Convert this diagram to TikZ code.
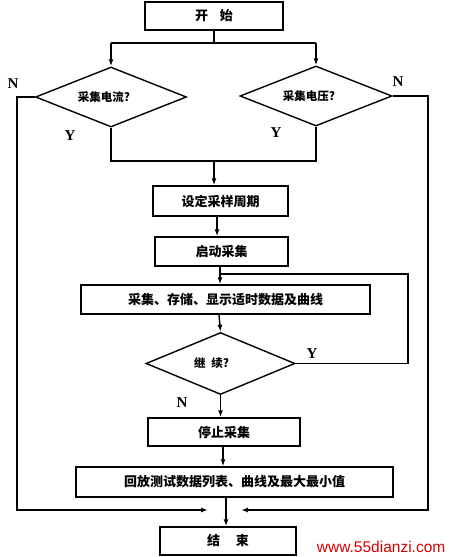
\documentclass[tikz,border=0pt]{standalone}
\usepackage{fontspec}
\setmainfont{Liberation Serif}
\newfontfamily\cjk{Noto Sans CJK SC}
\newfontfamily\wm{Liberation Sans}
\usetikzlibrary{shapes.geometric,arrows.meta}
\begin{document}
\begin{tikzpicture}[x=1pt,y=-1pt,
  line width=1.4pt,
  every node/.style={inner sep=0pt},
  proc/.style={draw,rectangle,font=\cjk\fontsize{13}{15}\selectfont\bfseries},
  dec/.style={draw,diamond,aspect=2.5,font=\cjk\fontsize{11.5}{13}\selectfont\bfseries},
  yn/.style={font=\fontsize{15}{17}\selectfont\bfseries},
  arr/.style={-{Latex[length=7pt,width=5pt]}}]
\useasboundingbox (0,0) rectangle (450,557);
% nodes
\node[proc,minimum width=138pt,minimum height=28pt] (start) at (214,16) {开\hspace{0.9em}始};
\node[dec,minimum width=151pt,minimum height=60pt] (d1) at (111,97) {\hspace{-14pt}采集电流?};
\node[dec,minimum width=152pt,minimum height=60pt] (d2) at (316,96) {\hspace{-14pt}采集电压?};
\node[proc,minimum width=135pt,minimum height=30pt] (b1) at (220.5,201) {设定采样周期};
\node[proc,minimum width=133pt,minimum height=29pt] (b2) at (221.5,251.5) {启动采集};
\node[proc,minimum width=289pt,minimum height=29pt] (b3) at (225.5,299.5) {采集、存储、显示适时数据及曲线};
\node[dec,minimum width=149pt,minimum height=62pt] (d3) at (220.5,363.5) {\hspace{-18pt}继\hspace{0.5em}续?};
\node[proc,minimum width=152pt,minimum height=28pt] (b4) at (224,432) {停止采集};
\node[proc,minimum width=317pt,minimum height=30pt] (b5) at (234.5,482) {回放测试数据列表、曲线及最大最小值};
\node[proc,minimum width=136pt,minimum height=28pt] (end) at (228,541) {结\hspace{1.2em}束};
% labels
\node[yn] (n1) at (13,84) {N};
\node[yn] (n2) at (398,82) {N};
\node[yn] (y1) at (70,136) {Y};
\node[yn] (y2) at (276,133) {Y};
\node[yn] (y3) at (312,354) {Y};
\node[yn] (n3) at (182,403) {N};
\node[font=\wm\fontsize{15.5}{17}\selectfont,text=red!85!black,anchor=east] (wm) at (446,547) {www.55dianzi.com};
% coordinates
\coordinate (jT) at (214,43);
\coordinate (jL) at (111,43);
\coordinate (jR) at (316,43);
\coordinate (kL) at (111,161);
\coordinate (kM) at (214,161);
\coordinate (kR) at (316,161);
\coordinate (lp1) at (408,363.5);
\coordinate (lp2) at (408,274);
\coordinate (lp3) at (220,274);
\coordinate (nl1) at (17,97);
\coordinate (nl2) at (17,510);
\coordinate (nl3) at (208,510);
\coordinate (nr1) at (428,96);
\coordinate (nr2) at (428,510);
\coordinate (nr3) at (241,510);
% connectors
\draw (start.south) -- (jT);
\draw (jL) -- (jR);
\draw[arr] (jL) -- (d1.north);
\draw[arr] (jR) -- (d2.north);
\draw (d1.south) -- (kL) -- (kR) -- (d2.south);
\draw[arr] (kM) -- (kM |- b1.north);
\draw[arr] (b1.south -| 217,0) -- (b2.north -| 217,0);
\draw[arr] (b2.south -| 220,0) -- (b3.north -| 220,0);
\draw (d3.east) -- (lp1) -- (lp2) -- (lp3);
\draw[arr] (b3.south -| 219,0) -- (d3.north);
\draw[arr] (d3.south) -- (b4.north -| d3.south);
\draw[arr] (b4.south -| 223,0) -- (b5.north -| 223,0);
\draw[arr] (b5.south -| 226,0) -- (end.north -| 226,0);
\draw[arr] (d1.west) -- (nl1) -- (nl2) -- (nl3);
\draw[arr] (d2.east) -- (nr1) -- (nr2) -- (nr3);
\end{tikzpicture}
\end{document}
